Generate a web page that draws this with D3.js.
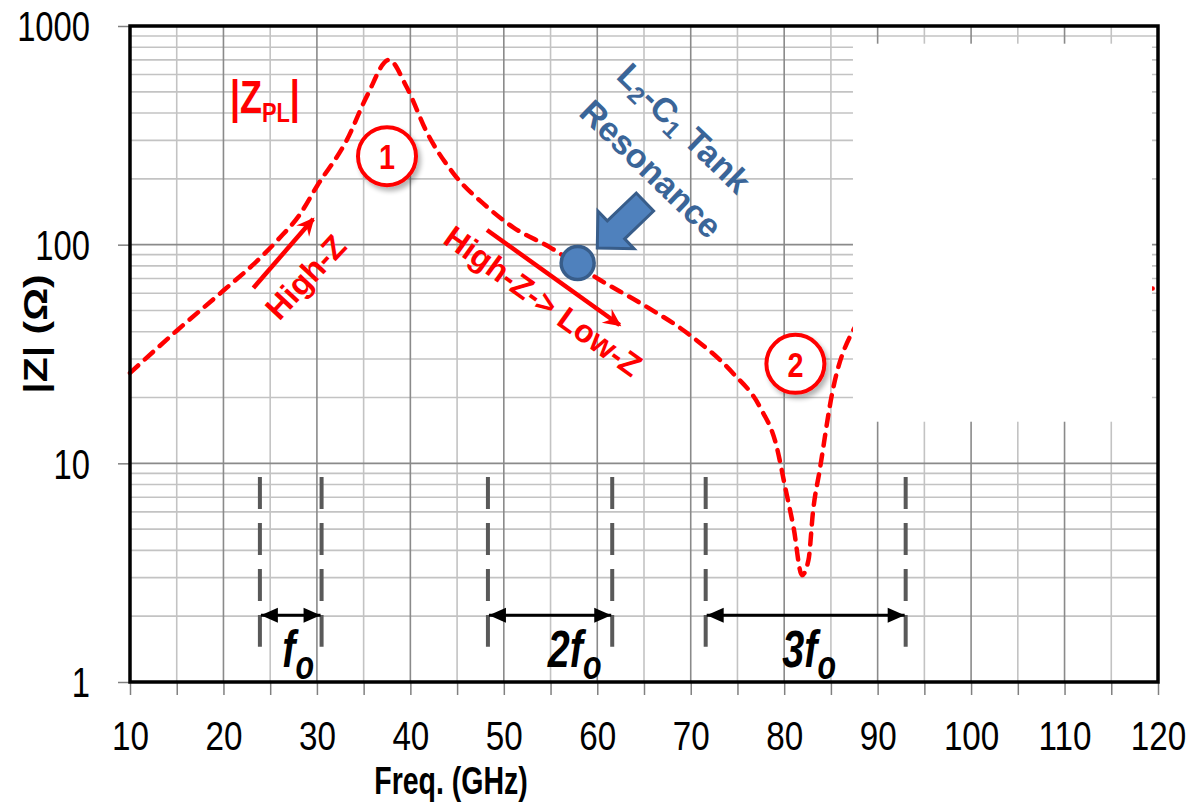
<!DOCTYPE html>
<html>
<head>
<meta charset="utf-8">
<script src="https://cdn.jsdelivr.net/npm/d3@7/dist/d3.min.js"></script>
<style>
  body { margin: 0; background: #fff; }
  svg { display: block; }
  text { font-family: "Liberation Sans", Arial, Helvetica, sans-serif; }
</style>
</head>
<body>
<svg id="chart" width="1202" height="802"></svg>
<script>
// |Z_PL| magnitude versus frequency (GHz, Ohm)
const freqGHz = [10, 15, 20, 24, 25.8, 28.2, 30, 33.2, 35.4, 37.7, 39.6, 41.8, 44.6, 48.2, 51, 54.9, 60.3, 64.6, 69.9, 74.5, 77.4, 79.2, 80.1, 81, 81.9, 82.6, 83.1, 83.8, 85.2, 87.4, 90, 95, 100, 110, 120];
const zplOhm  = [25.9, 40.4, 61.7, 87.5, 105, 138, 185, 301, 483, 700, 526, 324, 212, 149, 120, 97.5, 68.9, 54.1, 38.6, 25.9, 18.1, 11.9, 7.8, 5.1, 3.08, 3.61, 6.1, 9.3, 21.6, 40.7, 52, 58, 61, 62.5, 63];

// Axis ticks
const xTickValues = [10, 15, 20, 25, 30, 35, 40, 45, 50, 55, 60, 65, 70, 75, 80, 85, 90, 95, 100, 105, 110, 115, 120];
const yTickValues = [1, 10, 100, 1000];

// Harmonic bands: dashed boundaries and span arrows (GHz)
const bandEdges = [23.9, 30.5, 48.3, 61.6, 71.6, 93.0];
const bandSpans = [[23.9, 30.5], [48.3, 61.6], [71.6, 93.0]];
const bandLabelPrefix = ["", "2", "3"];
const bandLabelFreq = [26.3, 54.7, 79.8];

// Annotation anchors in data units (GHz, Ohm)
const circledLabels = [{ t: "1", f: 37.5, z: 254 }, { t: "2", f: 81.2, z: 28.5 }];
const tankPoint = { f: 57.9, z: 82.4 };

const svg = d3.select("#chart");
const M = { left: 130, top: 26, right: 1158, bottom: 682 };
const x = d3.scaleLinear().domain([10, 120]).range([M.left, M.right]);
const y = d3.scaleLog().domain([1, 1000]).range([M.bottom, M.top]);

const RED = "#ff0000", BLUE_TXT = "#3a6598", BLUE_FILL = "#4f81bd", BLUE_EDGE = "#385d8a";

// ---------- defs ----------
const defs = svg.append("defs");
const sh = defs.append("filter").attr("id", "shadow")
  .attr("x", "-40%").attr("y", "-40%").attr("width", "180%").attr("height", "180%");
sh.append("feGaussianBlur").attr("in", "SourceAlpha").attr("stdDeviation", 2.5).attr("result", "blur");
sh.append("feOffset").attr("in", "blur").attr("dx", 3).attr("dy", 4).attr("result", "off");
sh.append("feComponentTransfer").attr("in", "off").attr("result", "soft")
  .append("feFuncA").attr("type", "linear").attr("slope", 0.3);
const mrg = sh.append("feMerge");
mrg.append("feMergeNode").attr("in", "soft");
mrg.append("feMergeNode").attr("in", "SourceGraphic");

defs.append("marker").attr("id", "redHead")
  .attr("viewBox", "-19 -10 20 20").attr("refX", -2).attr("refY", 0)
  .attr("markerUnits", "userSpaceOnUse").attr("markerWidth", 20).attr("markerHeight", 20)
  .attr("orient", "auto")
  .append("path").attr("d", "M0,0 L-18,-8.5 L-12,0 L-18,8.5 Z").attr("fill", RED);

defs.append("marker").attr("id", "blackHead")
  .attr("viewBox", "-19 -10 20 20").attr("refX", 0).attr("refY", 0)
  .attr("markerUnits", "userSpaceOnUse").attr("markerWidth", 20).attr("markerHeight", 20)
  .attr("orient", "auto-start-reverse")
  .append("path").attr("d", "M0,0 L-17,-7.5 L-17,7.5 Z").attr("fill", "#000");

// ---------- grid ----------
const grid = svg.append("g");
const vMinor = xTickValues.filter(d => d % 10 !== 0);
const vMajor = xTickValues.filter(d => d % 10 === 0 && d > 10 && d < 120);
const hMinor = [];
[1, 10, 100].forEach(b => d3.range(2, 10).forEach(m => hMinor.push(b * m)));
const hMajor = [10, 100];

grid.selectAll(".vmin").data(vMinor).join("line")
  .attr("x1", d => x(d)).attr("x2", d => x(d)).attr("y1", M.top).attr("y2", M.bottom)
  .attr("stroke", "#c3c3c3").attr("stroke-width", 1.6);
grid.selectAll(".hmin").data(hMinor).join("line")
  .attr("x1", M.left).attr("x2", M.right).attr("y1", d => y(d)).attr("y2", d => y(d))
  .attr("stroke", "#c3c3c3").attr("stroke-width", 1.6);
grid.selectAll(".vmaj").data(vMajor).join("line")
  .attr("x1", d => x(d)).attr("x2", d => x(d)).attr("y1", M.top).attr("y2", M.bottom)
  .attr("stroke", "#8a8a8a").attr("stroke-width", 1.6);
grid.selectAll(".hmaj").data(hMajor).join("line")
  .attr("x1", M.left).attr("x2", M.right).attr("y1", d => y(d)).attr("y2", d => y(d))
  .attr("stroke", "#8a8a8a").attr("stroke-width", 1.6);

// ---------- curve ----------
const pts = freqGHz.map((f, i) => [f, zplOhm[i]]);
svg.append("path").datum(pts)
  .attr("d", d3.line().x(d => x(d[0])).y(d => y(d[1])).curve(d3.curveMonotoneX))
  .attr("fill", "none").attr("stroke", RED).attr("stroke-width", 4.5)
  .attr("stroke-dasharray", "11,9").attr("stroke-linecap", "round");

// blank panel over the upper right of the plot
svg.append("rect")
  .attr("x", x(87.36)).attr("y", y(830))
  .attr("width", x(119.36) - x(87.36)).attr("height", y(15.5) - y(830))
  .attr("fill", "#fff");

// ---------- axes ----------
const xAxis = svg.append("g").attr("transform", `translate(0,${M.bottom})`)
  .call(d3.axisBottom(x).tickValues(xTickValues).tickSize(13).tickSizeOuter(0)
    .tickFormat(d => d % 10 === 0 ? d : ""));
xAxis.select(".domain").remove();
xAxis.selectAll(".tick line").attr("stroke", "#808080").attr("stroke-width", 1.5);
xAxis.selectAll(".tick text")
  .attr("y", 0).attr("dy", 0)
  .attr("transform", "translate(0,68) scale(0.81,1)")
  .attr("font-size", 41).attr("fill", "#000");

const yAxis = svg.append("g").attr("transform", `translate(${M.left},0)`)
  .call(d3.axisLeft(y).tickValues(yTickValues).tickSize(12).tickSizeOuter(0)
    .tickFormat(d3.format("d")));
yAxis.select(".domain").remove();
yAxis.selectAll(".tick line").attr("stroke", "#808080").attr("stroke-width", 1.5);
yAxis.selectAll(".tick text")
  .attr("x", 0).attr("dy", "0.35em")
  .attr("transform", "translate(-40,0) scale(0.78,1)")
  .attr("text-anchor", "end")
  .attr("font-size", 42).attr("fill", "#000");

// plot frame
svg.append("rect")
  .attr("x", M.left).attr("y", M.top)
  .attr("width", M.right - M.left).attr("height", M.bottom - M.top)
  .attr("fill", "none").attr("stroke", "#000").attr("stroke-width", 3.5);

// axis titles
svg.append("text")
  .attr("transform", `translate(451,794) scale(0.75,1)`)
  .attr("text-anchor", "middle").attr("font-size", 38).attr("font-weight", "bold")
  .text("Freq. (GHz)");
svg.append("text")
  .attr("transform", `translate(47,334) scale(0.82,1) rotate(-90)`)
  .attr("text-anchor", "middle").attr("font-size", 41).attr("font-weight", "bold")
  .text("|Z| (Ω)");

// ---------- harmonic bands ----------
const bandTop = 8.66, bandBottom = 1.45, spanZ = 2.02, labelZ = 1.171;
svg.append("g").selectAll("line").data(bandEdges).join("line")
  .attr("x1", d => x(d)).attr("x2", d => x(d))
  .attr("y1", y(bandTop)).attr("y2", y(bandBottom))
  .attr("stroke", "#595959").attr("stroke-width", 4).attr("stroke-dasharray", "32,14");
svg.append("g").selectAll("line").data(bandSpans).join("line")
  .attr("x1", d => x(d[0]) + 1).attr("x2", d => x(d[1]) - 1)
  .attr("y1", y(spanZ)).attr("y2", y(spanZ))
  .attr("stroke", "#000").attr("stroke-width", 3)
  .attr("marker-start", "url(#blackHead)").attr("marker-end", "url(#blackHead)");
bandLabelFreq.forEach((f, i) => {
  const t = svg.append("text")
    .attr("transform", `translate(${x(f)},${y(labelZ)}) scale(0.76,1)`)
    .attr("font-size", 52).attr("font-weight", "bold").attr("font-style", "italic");
  t.append("tspan").text(bandLabelPrefix[i] + "f");
  t.append("tspan").attr("font-size", 40).attr("dy", 12).text("o");
});

// ---------- red annotations ----------
// |Z_PL| legend text
const zl = svg.append("text")
  .attr("transform", `translate(${x(20.7)},${y(400)}) scale(0.78,1)`)
  .attr("font-size", 46).attr("font-weight", "bold").attr("fill", RED);
zl.append("tspan").text("|Z");
zl.append("tspan").attr("font-size", 28).attr("dy", 9).text("PL");
zl.append("tspan").attr("dy", -9).text("|");

// rising-impedance arrow
svg.append("line")
  .attr("x1", x(23.2)).attr("y1", y(63.4)).attr("x2", x(29.6)).attr("y2", y(131))
  .attr("stroke", RED).attr("stroke-width", 4.5).attr("marker-end", "url(#redHead)");
svg.append("text")
  .attr("transform", `translate(${x(28.8)},${y(71.1)}) rotate(-47)`)
  .attr("text-anchor", "middle").attr("dy", "0.35em")
  .attr("font-size", 32).attr("font-weight", "bold").attr("fill", RED).text("High-Z");

// falling-impedance arrow
svg.append("line")
  .attr("x1", x(48.2)).attr("y1", y(116.7)).attr("x2", x(62.4)).attr("y2", y(42.9))
  .attr("stroke", RED).attr("stroke-width", 4.5).attr("marker-end", "url(#redHead)");
svg.append("text")
  .attr("transform", `translate(${x(54.2)},${y(55.2)}) rotate(35.6)`)
  .attr("text-anchor", "middle").attr("dy", "0.35em")
  .attr("font-size", 32).attr("font-weight", "bold").attr("fill", RED).text("High-Z-> Low-Z");

// circled region numbers
const cl = svg.append("g").selectAll("g").data(circledLabels).join("g")
  .attr("transform", d => `translate(${x(d.f)},${y(d.z)})`);
cl.append("circle").attr("r", 29)
  .attr("fill", "#fff").attr("stroke", RED).attr("stroke-width", 4)
  .attr("filter", "url(#shadow)");
cl.append("text")
  .attr("transform", "scale(0.8,1)")
  .attr("text-anchor", "middle").attr("dy", "0.36em")
  .attr("font-size", 36).attr("font-weight", "bold").attr("fill", RED)
  .text(d => d.t);

// ---------- tank resonance marker ----------
svg.append("circle")
  .attr("cx", x(tankPoint.f)).attr("cy", y(tankPoint.z)).attr("r", 16.5)
  .attr("fill", BLUE_FILL).attr("stroke", BLUE_EDGE).attr("stroke-width", 3.5);

// block arrow pointing at the marker
const tail = [x(65.1), y(156.7)], tip = [x(60.0), y(96.6)];
const ang = Math.atan2(tip[1] - tail[1], tip[0] - tail[0]) * 180 / Math.PI;
const len = Math.hypot(tip[0] - tail[0], tip[1] - tail[1]);
const headLen = 26, shaftHalf = 12.5, headHalf = 26;
svg.append("path")
  .attr("transform", `translate(${tail[0]},${tail[1]}) rotate(${ang})`)
  .attr("d", `M0,${-shaftHalf} L${len - headLen},${-shaftHalf} L${len - headLen},${-headHalf} L${len},0 L${len - headLen},${headHalf} L${len - headLen},${shaftHalf} L0,${shaftHalf} Z`)
  .attr("fill", BLUE_FILL).attr("stroke", BLUE_EDGE).attr("stroke-width", 3).attr("stroke-linejoin", "miter");

// tank label, two rotated lines
const t1 = svg.append("text")
  .attr("transform", `translate(${x(69.3)},${y(341)}) rotate(44)`)
  .attr("text-anchor", "middle").attr("dy", "0.35em")
  .attr("font-size", 34).attr("font-weight", "bold").attr("fill", BLUE_TXT);
t1.append("tspan").text("L");
t1.append("tspan").attr("font-size", 24).attr("dy", 6).text("2");
t1.append("tspan").attr("dy", -6).text("-C");
t1.append("tspan").attr("font-size", 24).attr("dy", 6).text("1");
t1.append("tspan").attr("dy", -6).text(" Tank");
svg.append("text")
  .attr("transform", `translate(${x(65.75)},${y(222)}) rotate(44)`)
  .attr("text-anchor", "middle").attr("dy", "0.35em")
  .attr("font-size", 34).attr("font-weight", "bold").attr("fill", BLUE_TXT)
  .text("Resonance");
</script>
</body>
</html>
